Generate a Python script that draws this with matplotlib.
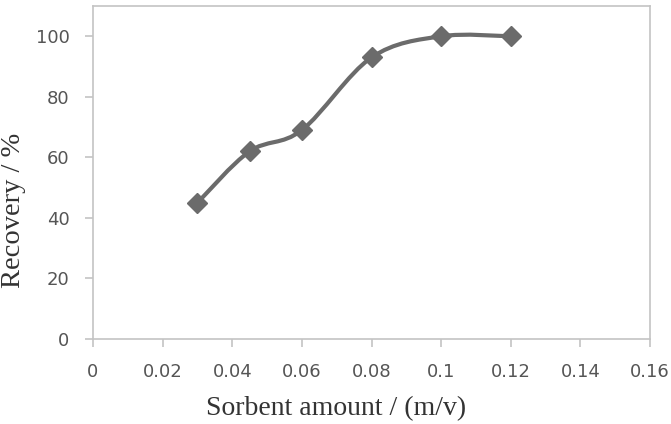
import numpy as np
import matplotlib.pyplot as plt
from matplotlib.path import Path
from matplotlib.patches import PathPatch

sorbent = [0.03, 0.045, 0.06, 0.08, 0.1, 0.12]
recovery = [45, 62, 69, 93, 100, 100]
xticks = [0, 0.02, 0.04, 0.06, 0.08, 0.1, 0.12, 0.14, 0.16]
xticklabels = ["0", "0.02", "0.04", "0.06", "0.08", "0.1", "0.12", "0.14", "0.16"]
yticks = [0, 20, 40, 60, 80, 100]


def smooth_path(ax, x, y):
    # Excel-like smoothed line: cubic Bezier segments with Catmull-Rom tangents,
    # built in display space so the curve looks right on screen
    pts = ax.transData.transform(np.column_stack([x, y]))
    n = len(pts)
    verts = [pts[0]]
    codes = [Path.MOVETO]
    for i in range(n - 1):
        p0 = pts[i - 1] if i > 0 else pts[i]
        p1 = pts[i]
        p2 = pts[i + 1]
        p3 = pts[i + 2] if i + 2 < n else pts[i + 1]
        c1 = p1 + (p2 - p0) / 6
        c2 = p2 - (p3 - p1) / 6
        verts += [c1, c2, p2]
        codes += [Path.CURVE4] * 3
    return Path(verts, codes)


def main():
    fig = plt.figure(figsize=(6.71, 4.24), dpi=100)
    ax = fig.add_axes([93 / 671, 1 - 339 / 424, 557 / 671, 333 / 424])
    ax.set_xlim(0, 0.16)
    ax.set_ylim(0, 110)

    path = smooth_path(ax, sorbent, recovery)
    ax.add_patch(PathPatch(path, facecolor="none", edgecolor="#6b6b6b", lw=3,
                           transform=None, zorder=3))
    ax.plot(sorbent, recovery, linestyle="none", marker="D", markersize=10,
            color="#6b6b6b", zorder=4)

    for s in ax.spines.values():
        s.set_color("#c4c4c4")
        s.set_linewidth(1.2)

    ax.set_xticks(xticks)
    ax.set_xticklabels(xticklabels)
    ax.set_yticks(yticks)
    ax.tick_params(direction="out", length=6, color="#c4c4c4", width=1.2,
                   labelsize=13, labelcolor="#555555", pad=11)
    for lab in ax.get_xticklabels() + ax.get_yticklabels():
        lab.set_family("DejaVu Sans")

    ax.set_xlabel("Sorbent amount / (m/v)", family="Liberation Serif",
                  fontsize=20, color="#333333")
    ax.set_ylabel("Recovery / %", family="Liberation Serif",
                  fontsize=20.5, color="#333333")
    ax.xaxis.set_label_coords(0.436, -0.171)
    ax.yaxis.set_label_coords(-0.12, 0.387)

    fig.savefig("out.png", dpi=100)


if __name__ == "__main__":
    main()
